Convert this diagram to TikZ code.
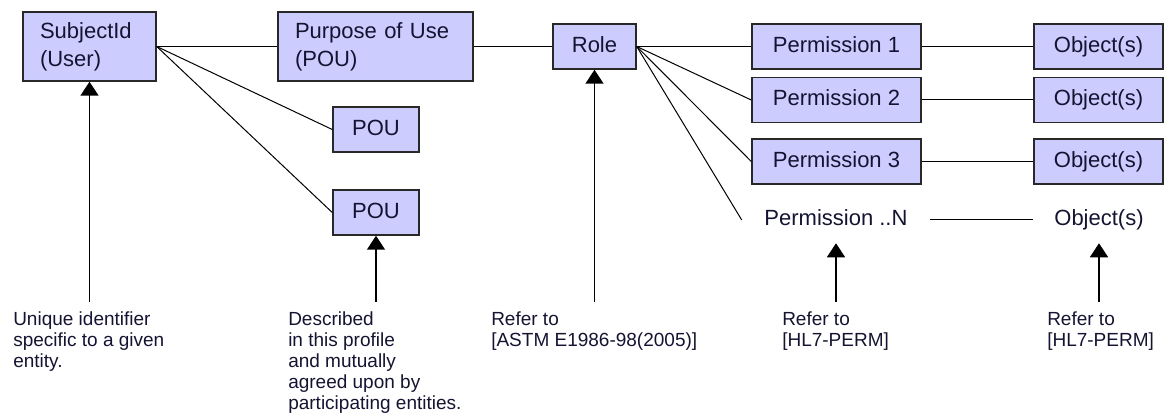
\documentclass[tikz,border=0pt]{standalone}
\usepackage{fontspec}
\setmainfont{Liberation Sans}
\usetikzlibrary{arrows.meta}
\definecolor{boxfill}{RGB}{204,204,255}
\definecolor{boxline}{RGB}{40,40,40}
\definecolor{txt}{RGB}{20,20,50}

\begin{document}
\begin{tikzpicture}[x=0.75pt,y=0.75pt,yscale=-1,xscale=1,
  entity/.style={draw=boxline,fill=boxfill,line width=1.1pt,inner sep=0pt,minimum height=33.75pt,text height=12pt,text depth=3.5pt,font=\fontsize{16.5}{21}\selectfont,text=txt},
  twoline/.style={entity,align=left,inner xsep=12.75pt,minimum height=51.75pt,text height=,text depth=},
  plain/.style={inner sep=0pt,minimum height=34.5pt,text height=12pt,text depth=3.5pt,font=\fontsize{16.5}{21}\selectfont,text=txt},
  link/.style={line width=0.75pt},
  refarrow/.style={line width=1.2pt,-{Triangle[width=13.5pt,length=10.5pt]}},
  note/.style={anchor=north west,align=left,inner xsep=0pt,inner ysep=6.75pt,font=\fontsize{14.25}{15.75}\selectfont,text=txt}]
\useasboundingbox (0,0) rectangle (1164,413);

%Shape: Rectangle [subject and purpose of use]
\node[twoline,text width=74.25pt] (subj) at (89.5,46.5) {SubjectId\\(User)};
\node[twoline,text width=120.75pt] (pou) at (375.5,46.5) {Purpose of Use\\(POU)};
\node[entity,minimum width=64.5pt] (pou1) at (376,129.5) {POU};
\node[entity,minimum width=64.5pt] (pou2) at (376,212.5) {POU};
%Shape: Rectangle [role]
\node[entity,minimum width=62.25pt] (role) at (594.5,46.5) {Role};

%Straight Lines
\draw[link] (subj.east) -- (pou.west);
\draw[link] (subj.east) -- (pou1.west);
\draw[link] (subj.east) -- (pou2.west);
\draw[link] (pou.east) -- (role.west);

%Shape: Rectangle [permissions and objects]
\foreach \i/\y in {1/46.5,2/100,3/161.5}{
  \node[entity,minimum width=126.75pt] (perm\i) at (836.5,\y) {Permission \i};
  \node[entity,minimum width=96.75pt] (obj\i) at (1098.5,\y) {Object(s)};
  \draw[link] (role.east) -- (perm\i.west);
  \draw[link] (perm\i) -- (obj\i);
}
% Text Node
\node[plain,minimum width=141pt] (permN) at (836,220) {Permission ..N};
\node[plain,minimum width=99pt] (objN) at (1099,220) {Object(s)};
\draw[link] (role.east) -- (permN.west);
\draw[link] (permN.east) -- (objN.west);

% Text Node
\node[note] (uniq) at (13,302) {Unique identifier\\specific to a given\\entity.};
% Text Node
\node[note] (descr) at (288,302) {Described\\in this profile\\and mutually\\agreed upon by\\participating entities.};
% Text Node
\node[note] (astm) at (491,302) {Refer to\\{[ASTM E1986-98(2005)]}};
% Text Node
\node[note] (permref) at (782,302) {Refer to\\{[HL7-PERM]}};
% Text Node
\node[note] (objref) at (1047,302) {Refer to\\{[HL7-PERM]}};

%Arrows
\draw[refarrow] (uniq.north -| subj.south) -- (subj.south);
\draw[refarrow] (descr.north -| pou2.south) -- (pou2.south);
\draw[refarrow] (astm.north -| role.south) -- (role.south);
\draw[refarrow] (permref.north -| permN.south) -- (permN.south);
\draw[refarrow] (objref.north -| objN.south) -- (objN.south);

\end{tikzpicture}
\end{document}
